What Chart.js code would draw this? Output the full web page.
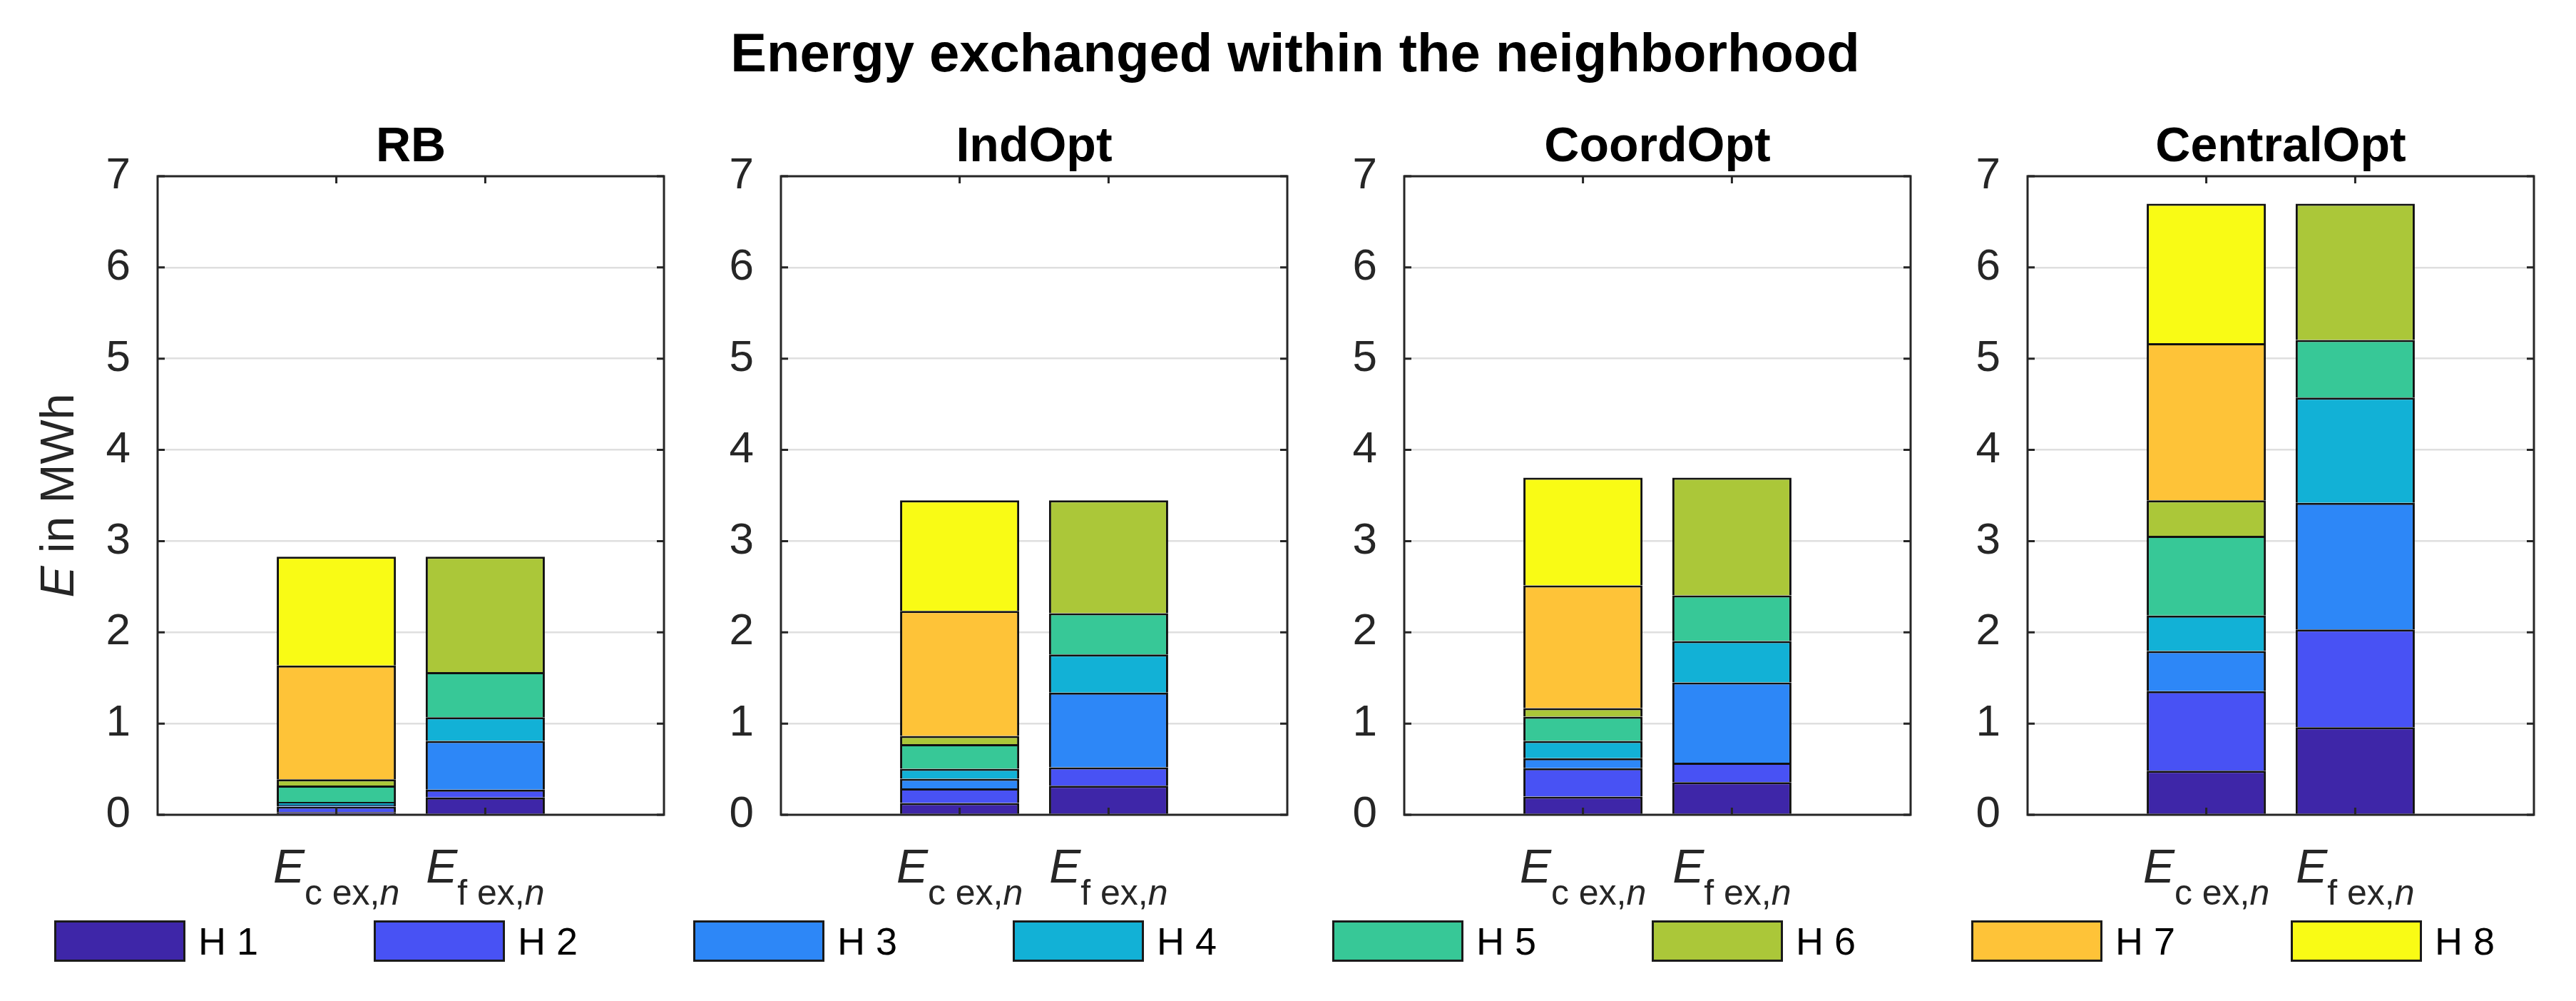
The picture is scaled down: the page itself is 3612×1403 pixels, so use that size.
<!DOCTYPE html>
<html>
<head>
<meta charset="utf-8">
<script src="https://cdn.jsdelivr.net/npm/chart.js@4.4.0/dist/chart.umd.min.js"></script>
<style>
html,body{margin:0;padding:0;background:#fff;}
#wrap{position:relative;width:3612px;height:1403px;overflow:hidden;background:#fff;font-family:"Liberation Sans",Arial,Helvetica,sans-serif;}
canvas.sub{position:absolute;top:0;}
#title{position:absolute;left:0;top:36px;width:3632px;text-align:center;font-weight:bold;font-size:76px;line-height:76px;color:#000;}
.lbox{position:absolute;top:1290px;width:184px;height:58px;box-sizing:border-box;border:3px solid #1a1a1a;}
.ltxt{position:absolute;top:1290px;height:58px;line-height:58px;font-size:54px;color:#000;white-space:nowrap;}
</style>
</head>
<body>
<div id="wrap">
  <div id="title">Energy exchanged within the neighborhood</div>
</div>
<script>
// ---- data (MWh) ----
const scenarios = ['RB', 'IndOpt', 'CoordOpt', 'CentralOpt'];
const houses = ['H 1', 'H 2', 'H 3', 'H 4', 'H 5', 'H 6', 'H 7', 'H 8'];
const barPositions = [1, 2];
const barSubscripts = ['c', 'f'];
const yTicks = [0, 1, 2, 3, 4, 5, 6, 7];

// E_c ex,n per house
const ecRB      = [0.03, 0.06, 0.02, 0.03, 0.18, 0.07, 1.246, 1.194];
const ecIndOpt  = [0.13, 0.16, 0.105, 0.11, 0.27, 0.09, 1.37, 1.213];
const ecCoordOpt = [0.20, 0.31, 0.11, 0.19, 0.265, 0.095, 1.345, 1.18];
const ecCentralOpt = [0.483, 0.873, 0.439, 0.39, 0.873, 0.39, 1.722, 1.528];
// E_f ex,n per house
const efRB      = [0.19, 0.085, 0.535, 0.26, 0.495, 1.265, 0, 0];
const efIndOpt  = [0.318, 0.202, 0.82, 0.417, 0.453, 1.238, 0, 0];
const efCoordOpt = [0.357, 0.214, 0.879, 0.455, 0.50, 1.29, 0, 0];
const efCentralOpt = [0.961, 1.07, 1.389, 1.153, 0.632, 1.493, 0, 0];

const houseColors = ['#3E26A8', '#4852F4', '#2D87F7', '#12B1D6', '#37C897', '#ABC739', '#FEC338', '#F9FB15'];

const scenarioTable = [
  [ecRB, efRB], [ecIndOpt, efIndOpt], [ecCoordOpt, efCoordOpt], [ecCentralOpt, efCentralOpt]
];

// ---- layout ----
const axLefts = [221, 1095, 1969, 2843];
const axW = 710, axTop = 247, axBottom = 1142, H = 1403;
const padL = 220, padR = 40, yAxisW = 100;
const FONT = '"Liberation Sans", Arial, Helvetica, sans-serif';
const AXC = '#262626';

const matlabPlugin = {
  id: 'matlabAxes',
  afterDraw(chart, args, opts) {
    const {ctx, chartArea: a, scales: {x, y}} = chart;
    ctx.save();
    // box + inward ticks
    ctx.strokeStyle = AXC; ctx.lineWidth = 3; ctx.lineCap = 'butt';
    ctx.beginPath();
    yTicks.forEach(v => {
      const py = y.getPixelForValue(v);
      ctx.moveTo(a.left, py); ctx.lineTo(a.left + 10, py);
      ctx.moveTo(a.right, py); ctx.lineTo(a.right - 10, py);
    });
    barPositions.forEach(v => {
      const px = x.getPixelForValue(v);
      ctx.moveTo(px, a.bottom); ctx.lineTo(px, a.bottom - 10);
      ctx.moveTo(px, a.top); ctx.lineTo(px, a.top + 10);
    });
    ctx.stroke();
    ctx.strokeRect(a.left, a.top, a.right - a.left, a.bottom - a.top);

    // subplot title
    ctx.fillStyle = '#000';
    ctx.font = 'bold 68px ' + FONT;
    ctx.textAlign = 'center'; ctx.textBaseline = 'alphabetic';
    ctx.fillText(opts.title, (a.left + a.right) / 2, a.top - 21);

    // x tick labels  E_{c ex,n}
    ctx.fillStyle = AXC;
    barPositions.forEach((v, i) => {
      const px = x.getPixelForValue(v);
      const fE = 'italic 66px ' + FONT, fS = '50px ' + FONT, fN = 'italic 50px ' + FONT;
      const s1 = barSubscripts[i] + ' ex,', s2 = 'n';
      ctx.font = fE; const wE = ctx.measureText('E').width;
      ctx.font = fS; const w1 = ctx.measureText(s1).width;
      ctx.font = fN; const w2 = ctx.measureText(s2).width;
      let sx = px - (wE + w1 + w2) / 2;
      ctx.textAlign = 'left';
      ctx.font = fE; ctx.fillText('E', sx, a.bottom + 95); sx += wE;
      ctx.font = fS; ctx.fillText(s1, sx, a.bottom + 126); sx += w1;
      ctx.font = fN; ctx.fillText(s2, sx, a.bottom + 126);
    });

    // y label
    if (opts.ylabel) {
      ctx.save();
      ctx.translate(a.left - 136, (a.top + a.bottom) / 2);
      ctx.rotate(-Math.PI / 2);
      const fE = 'italic 66px ' + FONT, fR = '66px ' + FONT;
      ctx.font = fE; const wE = ctx.measureText('E').width;
      ctx.font = fR; const wR = ctx.measureText(' in MWh').width;
      let sx = -(wE + wR) / 2;
      ctx.textAlign = 'left'; ctx.textBaseline = 'middle';
      ctx.font = fE; ctx.fillText('E', sx, 0);
      ctx.font = fR; ctx.fillText(' in MWh', sx + wE, 0);
      ctx.restore();
    }
    ctx.restore();
  }
};

const wrap = document.getElementById('wrap');
scenarios.forEach((name, si) => {
  const cv = document.createElement('canvas');
  cv.className = 'sub';
  const cw = padL + axW + padR;
  cv.width = cw; cv.height = H;
  cv.style.left = (axLefts[si] - padL) + 'px';
  cv.style.width = cw + 'px'; cv.style.height = H + 'px';
  wrap.appendChild(cv);
  const [ec, ef] = scenarioTable[si];
  const datasets = houses.map((h, hi) => ({
    label: h,
    stack: 'all',
    data: [{x: barPositions[0], y: ec[hi]}, {x: barPositions[1], y: ef[hi]}],
    backgroundColor: houseColors[hi],
    borderColor: '#111',
    borderWidth: 3,
    borderSkipped: 'start',
    categoryPercentage: 1.0,
    barPercentage: 0.8
  }));
  new Chart(cv, {
    type: 'bar',
    data: {datasets},
    options: {
      responsive: false,
      animation: false,
      devicePixelRatio: 1,
      layout: {padding: {left: padL - yAxisW, right: padR, top: axTop, bottom: H - axBottom}},
      plugins: {
        legend: {display: false},
        tooltip: {enabled: false},
        title: {display: false},
        matlabAxes: {title: name, ylabel: si === 0}
      },
      scales: {
        x: {
          type: 'linear', min: -0.2, max: 3.2, offset: false, display: false,
          grid: {offset: false},
          afterBuildTicks: s => { s.ticks = barPositions.map(v => ({value: v})); }
        },
        y: {
          type: 'linear', stacked: true, min: 0, max: 7,
          afterFit: s => { s.width = yAxisW; },
          ticks: {stepSize: 1, padding: 38, color: AXC, font: {family: FONT, size: 62}},
          grid: {color: '#dfdfdf', lineWidth: 2.5, drawTicks: false},
          border: {display: false}
        }
      }
    },
    plugins: [matlabPlugin]
  });
});

// legend
houses.forEach((h, i) => {
  const left = 76 + i * 448;
  const b = document.createElement('div');
  b.className = 'lbox'; b.style.left = left + 'px'; b.style.background = houseColors[i];
  wrap.appendChild(b);
  const t = document.createElement('div');
  t.className = 'ltxt'; t.style.left = (left + 184 + 18) + 'px'; t.textContent = h;
  wrap.appendChild(t);
});
</script>
</body>
</html>
